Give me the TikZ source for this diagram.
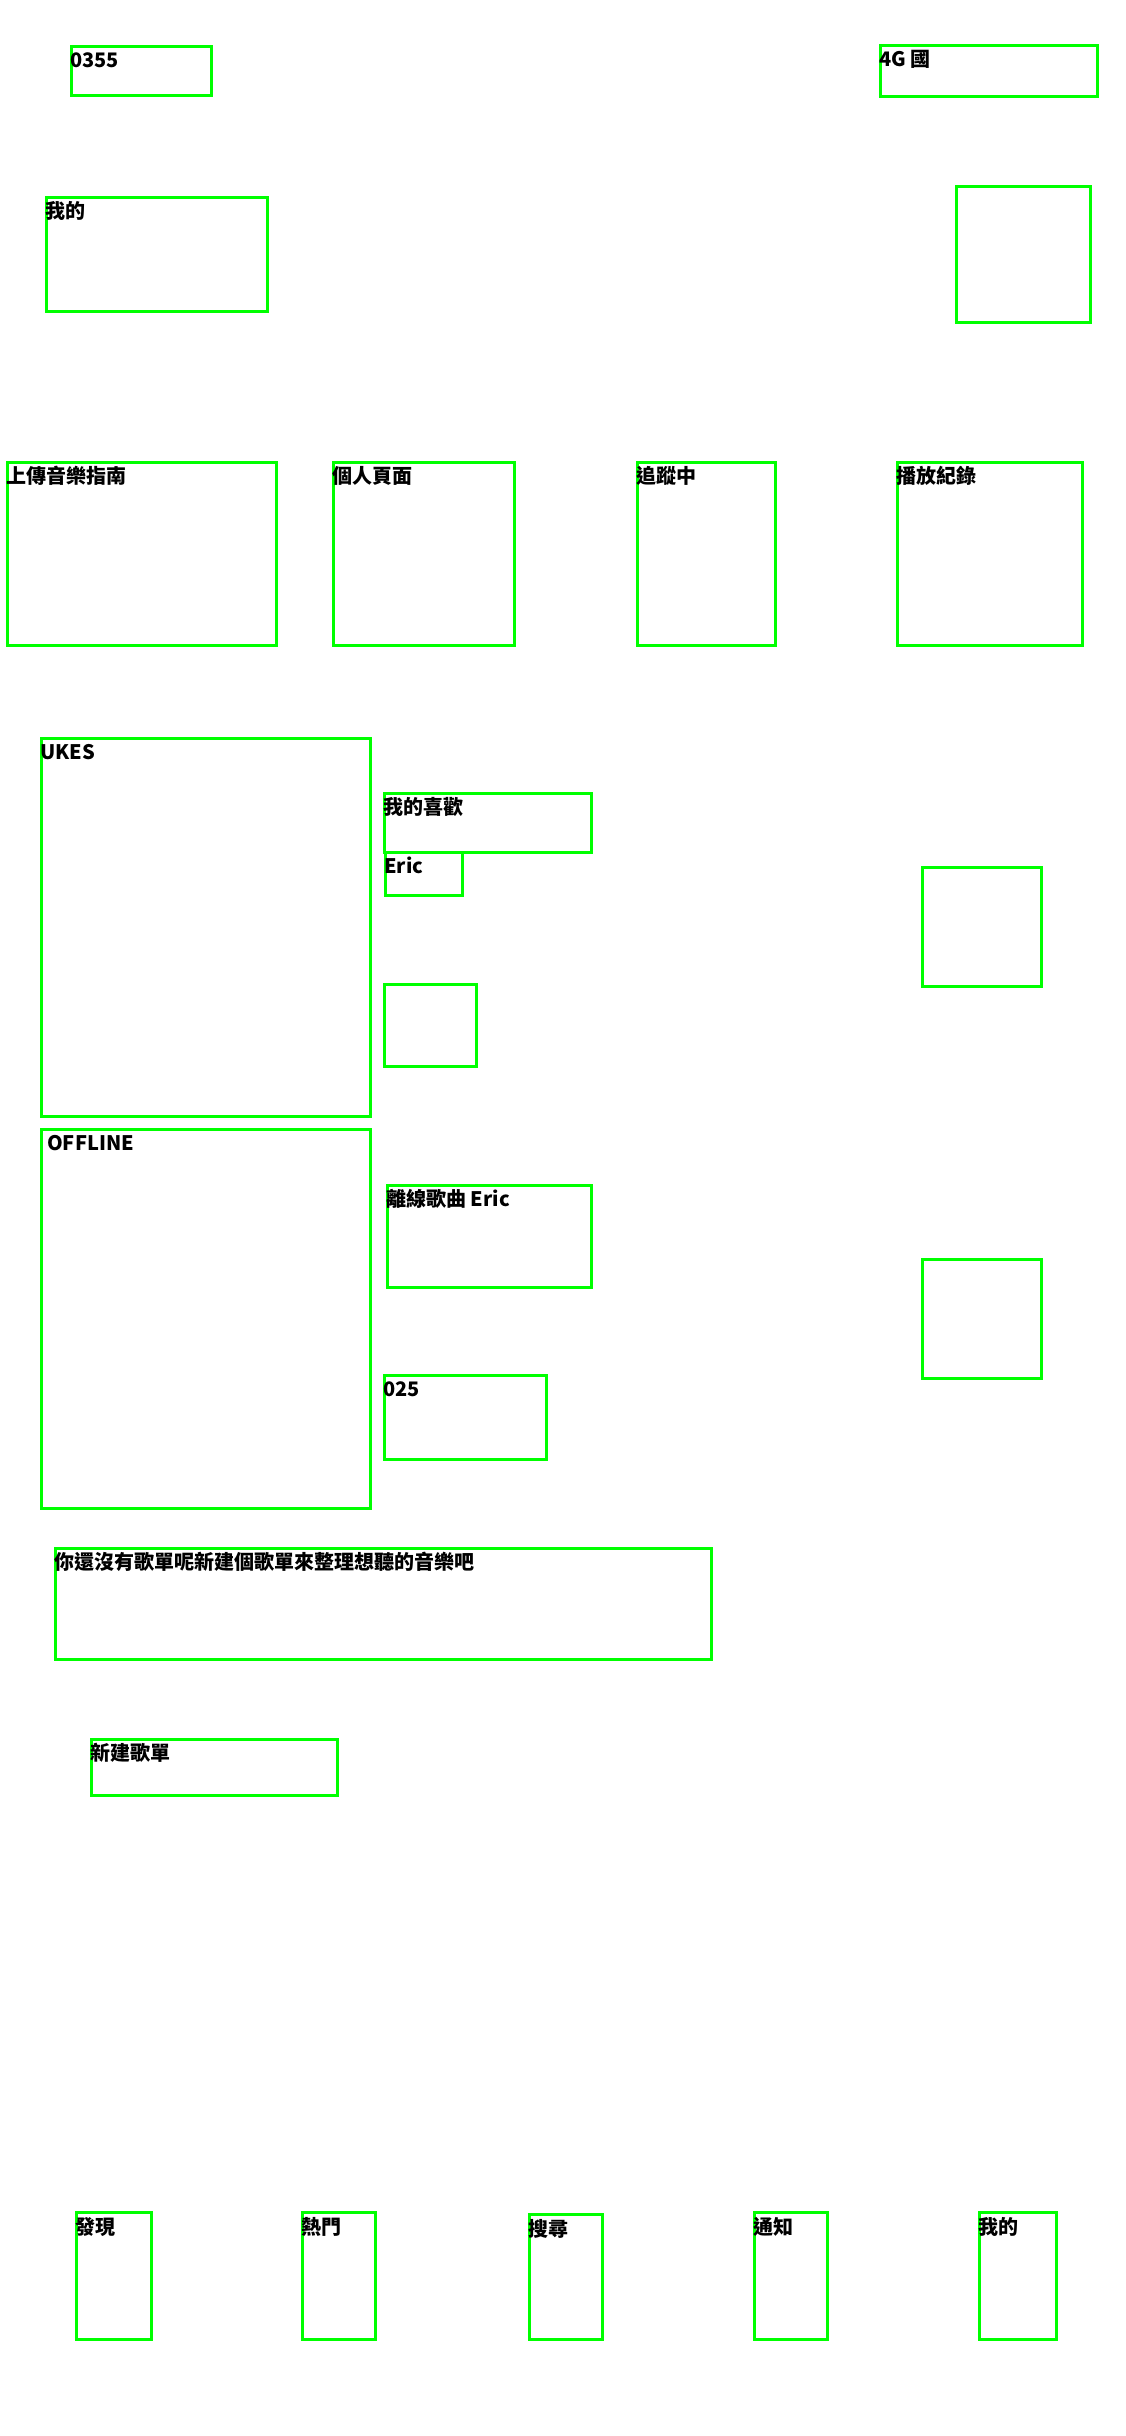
\documentclass[tikz,border=0pt]{standalone}
\usepackage{fontspec}
\setmainfont{Noto Sans CJK TC}
\definecolor{boxgreen}{RGB}{0,255,0}
\tikzstyle{bx}=[shape=rectangle, draw=boxgreen, line width=3pt,
                  anchor=north west, inner sep=0pt]
\tikzstyle{lb}=[anchor=base west, inner sep=0pt,
                  font=\fontsize{20}{24}\selectfont\bfseries]
\begin{document}
\begin{tikzpicture}[x=1pt, y=-1pt]
\useasboundingbox (0,0) rectangle (1125,2436);

% status bar
\node[bx, minimum width=140, minimum height=49] (clk) at (70,45) {};
\node[bx, minimum width=217, minimum height=51] (net) at (879,44) {};
\node[lb] (clkt) at ([yshift=-22.5]clk.north west) {0355};
\node[lb] (nett) at ([yshift=-22.5]net.north west) {4G 國};

% header
\node[bx, minimum width=221, minimum height=114] (me) at (45,196) {};
\node[bx, minimum width=134, minimum height=136] (ico) at (955,185) {};
\node[lb] (met) at ([yshift=-22.5]me.north west) {我的};

% menu row
\node[bx, minimum width=269, minimum height=183] (gd) at (6,461) {};
\node[bx, minimum width=181, minimum height=183] (pg) at (332,461) {};
\node[bx, minimum width=138, minimum height=183] (fw) at (636,461) {};
\node[bx, minimum width=185, minimum height=183] (hs) at (896,461) {};
\node[lb] (gdt) at ([yshift=-22.5]gd.north west) {上傳音樂指南};
\node[lb] (pgt) at ([yshift=-22.5]pg.north west) {個人頁面};
\node[lb] (fwt) at ([yshift=-22.5]fw.north west) {追蹤中};
\node[lb] (hst) at ([yshift=-22.5]hs.north west) {播放紀錄};

% liked list
\node[bx, minimum width=329, minimum height=378] (uk) at (40,737) {};
\node[bx, minimum width=207, minimum height=59] (lk) at (383,792) {};
\node[bx, minimum width=77, minimum height=43] (er) at (384,851) {};
\node[bx, minimum width=92, minimum height=82] (sm) at (383,983) {};
\node[bx, minimum width=119, minimum height=119] (r1) at (921,866) {};
\node[lb] (ukt) at ([yshift=-22]uk.north west) {UKES};
\node[lb] (lkt) at ([yshift=-22.5]lk.north west) {我的喜歡};
\node[lb] (ert) at ([yshift=-22.5]er.north west) {Eric};

% offline list
\node[bx, minimum width=329, minimum height=379] (of) at (40,1128) {};
\node[bx, minimum width=204, minimum height=102] (os) at (386,1184) {};
\node[bx, minimum width=162, minimum height=84] (nm) at (383,1374) {};
\node[bx, minimum width=119, minimum height=119] (r2) at (921,1258) {};
\node[lb] (oft) at ([xshift=7, yshift=-22]of.north west) {OFFLINE};
\node[lb] (ost) at ([yshift=-22.5]os.north west) {離線歌曲 Eric};
\node[lb] (nmt) at ([yshift=-22.5]nm.north west) {025};

% playlists
\node[bx, minimum width=656, minimum height=111] (em) at (54,1547) {};
\node[bx, minimum width=246, minimum height=56] (nw) at (90,1738) {};
\node[lb] (emt) at ([yshift=-22.5]em.north west) {你還沒有歌單呢新建個歌單來整理想聽的音樂吧};
\node[lb] (nwt) at ([yshift=-22.5]nw.north west) {新建歌單};

% tab bar
\node[bx, minimum width=75, minimum height=127] (t1) at (75,2211) {};
\node[bx, minimum width=73, minimum height=127] (t2) at (301,2211) {};
\node[bx, minimum width=73, minimum height=125] (t3) at (528,2213) {};
\node[bx, minimum width=73, minimum height=127] (t4) at (753,2211) {};
\node[bx, minimum width=77, minimum height=127] (t5) at (978,2211) {};
\node[lb] (t1t) at ([yshift=-23]t1.north west) {發現};
\node[lb] (t2t) at ([yshift=-23]t2.north west) {熱門};
\node[lb] (t3t) at ([yshift=-23]t3.north west) {搜尋};
\node[lb] (t4t) at ([yshift=-23]t4.north west) {通知};
\node[lb] (t5t) at ([yshift=-23]t5.north west) {我的};

\end{tikzpicture}
\end{document}
